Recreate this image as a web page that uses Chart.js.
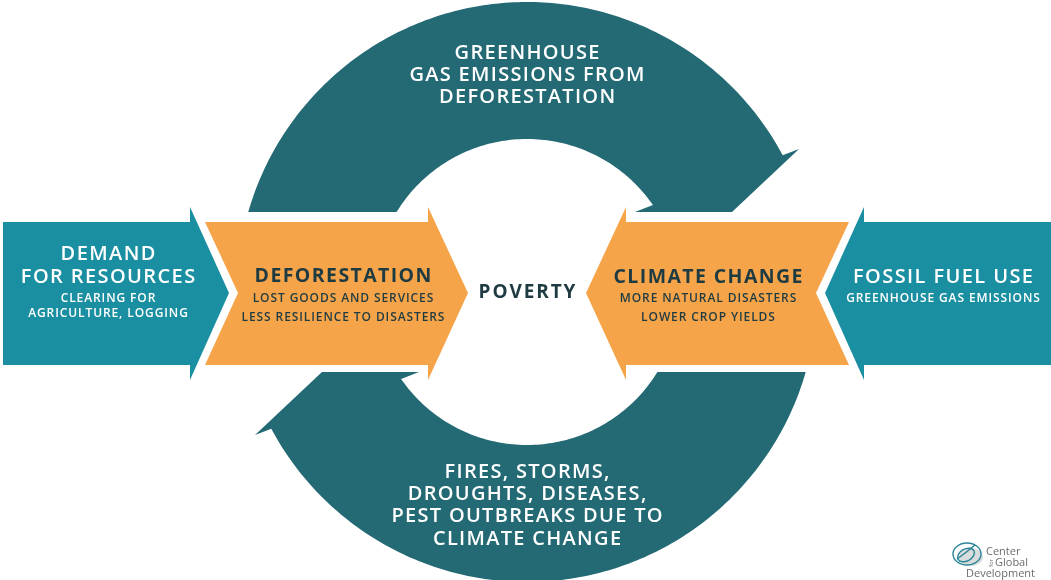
<!DOCTYPE html>
<html><head><meta charset="utf-8">
<script src="https://cdn.jsdelivr.net/npm/chart.js@4/dist/chart.umd.min.js"></script>
<style>html,body{margin:0;padding:0;background:#fff;overflow:hidden}#wrap{width:1051px;height:580px}</style>
</head><body><div id="wrap"><canvas id="c" width="1051" height="580"></canvas></div>
<script>
// ---------- DATA: text content of the diagram ----------
const cycleTopLabel    = ['GREENHOUSE', 'GAS EMISSIONS FROM', 'DEFORESTATION'];
const cycleBottomLabel = ['FIRES, STORMS,', 'DROUGHTS, DISEASES,', 'PEST OUTBREAKS DUE TO', 'CLIMATE CHANGE'];
const driverLeftTitle  = ['DEMAND', 'FOR RESOURCES'];
const driverLeftNotes  = ['CLEARING FOR', 'AGRICULTURE, LOGGING'];
const causeLeftTitle   = ['DEFORESTATION'];
const causeLeftNotes   = ['LOST GOODS AND SERVICES', 'LESS RESILIENCE TO DISASTERS'];
const causeRightTitle  = ['CLIMATE CHANGE'];
const causeRightNotes  = ['MORE NATURAL DISASTERS', 'LOWER CROP YIELDS'];
const driverRightTitle = ['FOSSIL FUEL USE'];
const driverRightNotes = ['GREENHOUSE GAS EMISSIONS'];
const centreLabel      = ['POVERTY'];
const sourceLabel      = ['Center', 'for', 'Global', 'Development'];

// ---------- layout / geometry (diagram units = canvas px) ----------
const W = 1051, H = 580;
const CX = 527, CY = 292, R_OUT = 290, R_IN = 153, CUT = 80;
const COL = {arc:'#246a75', teal:'#1b8fa2', orange:'#f6a449', dark:'#1f3b42', white:'#ffffff', grey:'#6d6d6d'};

function arcPts(r, a0, a1, n){
  const p = [];
  for (let i = 0; i <= n; i++){ const a = a0 + (a1 - a0) * i / n; p.push({x: CX + r*Math.cos(a), y: CY + r*Math.sin(a)}); }
  return p;
}
function topArrowArc(){
  const aOut0 = -Math.PI + Math.asin(CUT / R_OUT);
  const aOut1 = Math.atan2(-137, 256);
  const aIn1  = Math.atan2(-87, 126);
  const aIn0  = -Math.PI + Math.asin(CUT / R_IN);
  let p = arcPts(R_OUT, aOut0, aOut1, 160);
  p.push({x: CX + 272, y: CY - 143});   // arrow tip
  p.push({x: CX + 205, y: CY - CUT});   // heel
  p.push({x: CX + 108, y: CY - CUT});   // inner barb
  p = p.concat(arcPts(R_IN, aIn1, aIn0, 100));
  p.push(p[0]);
  return p;
}
const rot180 = pts => pts.map(q => ({x: 2*CX - q.x, y: 2*CY - q.y}));
const mirrorX = pts => pts.map(q => ({x: 2*CX - q.x, y: q.y}));
const P = a => a.map(([x,y]) => ({x, y}));

const topArc = topArrowArc();
const bottomArc = rot180(topArc);
const leftDriver  = P([[3,222],[190,222],[190,207],[229,293],[190,380],[190,365],[3,365],[3,222]]);
const leftCause   = P([[205,222],[428,222],[428,207],[468,293],[428,380],[428,365],[205,365],[238,293],[205,222]]);
const rightCause  = mirrorX(leftCause);
const rightDriver = mirrorX(leftDriver);

const shapes = [
  {pts: topArc, color: COL.arc},
  {pts: bottomArc, color: COL.arc},
  {pts: leftDriver, color: COL.teal},
  {pts: rightDriver, color: COL.teal},
  {pts: leftCause, color: COL.orange},
  {pts: rightCause, color: COL.orange},
];

// text blocks: [lines, centreX, firstLineY, lineGap, font, colour, spacing]
const FONT = '"Open Sans", "Noto Sans", sans-serif';
const blocks = [
  [cycleTopLabel, 527, 53, 22, '600 20px ' + FONT, COL.white, 1.3],
  [cycleBottomLabel, 527, 472, 22.3, '600 20px ' + FONT, COL.white, 1.3],
  [driverLeftTitle, 108, 254, 23, '600 20px ' + FONT, COL.white, 1.4],
  [driverLeftNotes, 108, 299, 15, '600 12px ' + FONT, COL.white, 0.9],
  [causeLeftTitle, 343, 276, 0, '700 19.5px ' + FONT, COL.dark, 1.4],
  [causeLeftNotes, 343, 299, 19, '600 12px ' + FONT, COL.dark, 0.9],
  [centreLabel, 527, 293, 0, '700 19px ' + FONT, COL.dark, 1.9],
  [causeRightTitle, 708, 277, 0, '700 19.5px ' + FONT, COL.dark, 1.4],
  [causeRightNotes, 708, 299, 19, '600 12px ' + FONT, COL.dark, 0.9],
  [driverRightTitle, 943, 277, 0, '600 20px ' + FONT, COL.white, 1.4],
  [driverRightNotes, 943, 299, 0, '600 12px ' + FONT, COL.white, 0.9],
];

const diagramText = {
  id: 'diagramText',
  afterDatasetsDraw(chart){
    const {ctx, scales:{x, y}} = chart;
    const px = v => x.getPixelForValue(v), py = v => y.getPixelForValue(v);
    ctx.save();
    ctx.textAlign = 'center'; ctx.textBaseline = 'middle';
    for (const [lines, cx, y0, gap, font, color, sp] of blocks){
      ctx.font = font; ctx.fillStyle = color;
      if ('letterSpacing' in ctx) ctx.letterSpacing = sp + 'px';
      lines.forEach((t, i) => ctx.fillText(t, px(cx) + sp/2, py(y0 + i*gap)));
    }
    if ('letterSpacing' in ctx) ctx.letterSpacing = '0px';
    // source logo
    const lx = px(967), ly = py(554);
    ctx.fillStyle = '#d9dcdc';
    ctx.beginPath(); ctx.ellipse(lx + 4, ly + 3, 12, 9, 0, 0, Math.PI*2); ctx.fill();
    ctx.strokeStyle = '#2b8596'; ctx.lineWidth = 1.4;
    ctx.beginPath(); ctx.ellipse(lx, ly, 14, 11, 0, 0, Math.PI*2); ctx.stroke();
    ctx.beginPath(); ctx.ellipse(lx - 1, ly + 1, 9, 6, -0.5, 0, Math.PI*2); ctx.stroke();
    ctx.beginPath(); ctx.moveTo(lx - 10, ly + 5); ctx.quadraticCurveTo(lx, ly - 2, lx + 8, ly - 9); ctx.stroke();
    ctx.fillStyle = COL.grey; ctx.textAlign = 'left';
    ctx.font = '11px ' + FONT;
    ctx.fillText(sourceLabel[0], px(986), py(552));
    ctx.fillText(sourceLabel[2], px(995), py(563));
    ctx.fillText(sourceLabel[3], px(966), py(574));
    ctx.save(); ctx.translate(px(991), py(563)); ctx.rotate(-Math.PI/2);
    ctx.font = '6px ' + FONT; ctx.textAlign = 'center'; ctx.fillText(sourceLabel[1], 0, 0);
    ctx.restore();
    ctx.restore();
  }
};

new Chart(document.getElementById('c'), {
  type: 'scatter',
  data: {datasets: shapes.map(s => ({
    data: s.pts, showLine: true, fill: 'shape', backgroundColor: s.color,
    borderColor: 'rgba(0,0,0,0)', borderWidth: 0, pointRadius: 0, pointHoverRadius: 0, tension: 0
  }))},
  options: {
    responsive: false, animation: false, events: [],
    layout: {padding: 0},
    plugins: {legend: {display: false}, tooltip: {enabled: false}},
    scales: {
      x: {type: 'linear', min: 0, max: W, display: false},
      y: {type: 'linear', min: 0, max: H, reverse: true, display: false}
    }
  },
  plugins: [diagramText]
});
</script></body></html>
